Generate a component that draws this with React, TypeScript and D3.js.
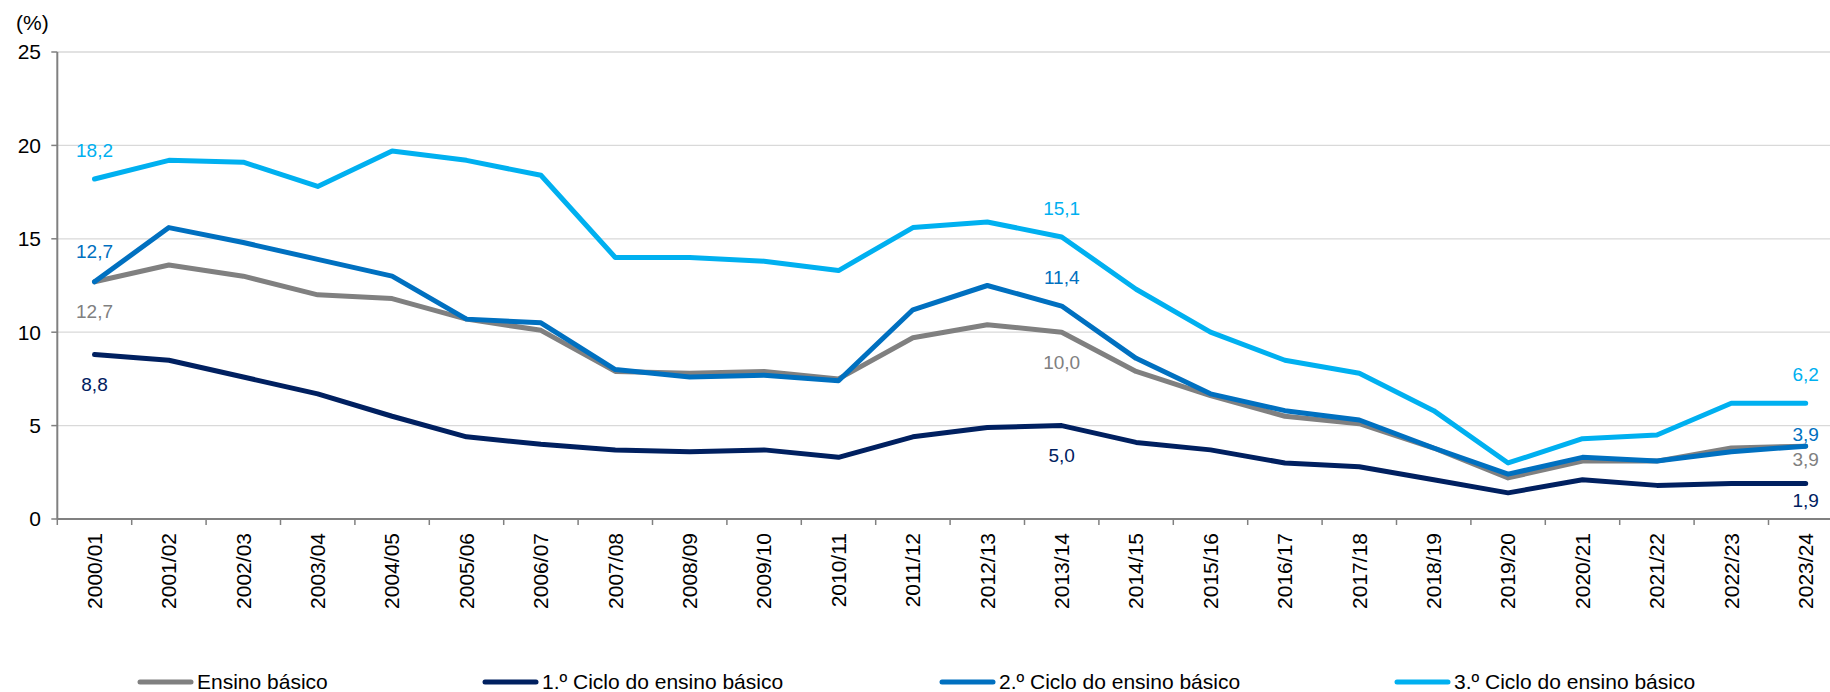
import React from "react";
import * as d3 from "d3";

const categories = [
  "2000/01", "2001/02", "2002/03", "2003/04", "2004/05", "2005/06", "2006/07", "2007/08",
  "2008/09", "2009/10", "2010/11", "2011/12", "2012/13", "2013/14", "2014/15", "2015/16",
  "2016/17", "2017/18", "2018/19", "2019/20", "2020/21", "2021/22", "2022/23", "2023/24",
];

const ensinoBasico = [12.7, 13.6, 13.0, 12.0, 11.8, 10.7, 10.1, 7.9, 7.8, 7.9, 7.5, 9.7, 10.4, 10.0, 7.9, 6.6, 5.5, 5.1, 3.8, 2.2, 3.1, 3.1, 3.8, 3.9];
const ciclo1 = [8.8, 8.5, 7.6, 6.7, 5.5, 4.4, 4.0, 3.7, 3.6, 3.7, 3.3, 4.4, 4.9, 5.0, 4.1, 3.7, 3.0, 2.8, 2.1, 1.4, 2.1, 1.8, 1.9, 1.9];
const ciclo2 = [12.7, 15.6, 14.8, 13.9, 13.0, 10.7, 10.5, 8.0, 7.6, 7.7, 7.4, 11.2, 12.5, 11.4, 8.6, 6.7, 5.8, 5.3, 3.8, 2.4, 3.3, 3.1, 3.6, 3.9];
const ciclo3 = [18.2, 19.2, 19.1, 17.8, 19.7, 19.2, 18.4, 14.0, 14.0, 13.8, 13.3, 15.6, 15.9, 15.1, 12.3, 10.0, 8.5, 7.8, 5.8, 3.0, 4.3, 4.5, 6.2, 6.2];

const seriesNames = [
  "Ensino básico",
  "1.º Ciclo do ensino básico",
  "2.º Ciclo do ensino básico",
  "3.º Ciclo do ensino básico",
];
const yTicks = [0, 5, 10, 15, 20, 25];
const labelIndexes = [0, 13, 23];

const COLORS = ["#808080", "#002060", "#0070C0", "#00B0F0"];
// vertical offset (px) of each series' value labels, per labelled index
const LABEL_OFFSETS = [
  [30, 30, 13],
  [30, 30, 17],
  [-30, -29, -12],
  [-29, -29, -29],
];
const LEGEND_X = [138, 483, 940, 1395];

const W = 1830;
const H = 692;
const X0 = 57.3;
const BAND = 74.4;
const Y_TOP = 52;
const Y_BOT = 519;
const FONT = "'Liberation Sans', Arial, Helvetica, sans-serif";

export default function App() {
  const series = [ensinoBasico, ciclo1, ciclo2, ciclo3];
  const x = d3.scaleBand<string>().domain(categories).range([X0, X0 + BAND * categories.length]).padding(0);
  const y = d3.scaleLinear().domain([0, 25]).range([Y_BOT, Y_TOP]);
  const cx = (c: string) => (x(c) as number) + x.bandwidth() / 2;
  const line = d3
    .line<number>()
    .x((_, i) => cx(categories[i]))
    .y((d) => y(d));

  const fmt = (v: number) => v.toFixed(1).replace(".", ",");

  return (
    <svg
      width={W}
      height={H}
      style={{ position: "absolute", left: 0, top: 0, background: "#fff" }}
      fontFamily={FONT}
    >
      {/* gridlines */}
      {yTicks.slice(1).map((t) => (
        <line key={t} x1={X0} x2={W} y1={y(t)} y2={y(t)} stroke="#D9D9D9" strokeWidth={1.3} />
      ))}
      {/* y axis */}
      <line x1={X0} x2={X0} y1={Y_TOP} y2={Y_BOT} stroke="#808080" strokeWidth={2} />
      {yTicks.map((t) => (
        <g key={t}>
          <line x1={X0 - 6} x2={X0} y1={y(t)} y2={y(t)} stroke="#808080" strokeWidth={1.5} />
          <text x={41} y={y(t)} dy="0.35em" textAnchor="end" fontSize={21} fill="#000">
            {t}
          </text>
        </g>
      ))}
      <text x={16} y={30} fontSize={21} fill="#000">(%)</text>
      {/* x axis */}
      <line x1={X0} x2={W} y1={Y_BOT} y2={Y_BOT} stroke="#808080" strokeWidth={2} />
      {categories.map((c) => (
        <line key={"t" + c} x1={x(c)} x2={x(c)} y1={Y_BOT} y2={Y_BOT + 6} stroke="#808080" strokeWidth={1.5} />
      ))}
      {categories.map((c) => (
        <text
          key={"l" + c}
          transform={`translate(${cx(c)},${Y_BOT + 14}) rotate(-90)`}
          textAnchor="end"
          dy="0.35em"
          fontSize={21}
          fill="#000"
        >
          {c}
        </text>
      ))}
      {/* lines */}
      {series.map((s, si) => (
        <path
          key={"s" + si}
          d={line(s) || ""}
          fill="none"
          stroke={COLORS[si]}
          strokeWidth={5}
          strokeLinejoin="round"
          strokeLinecap="round"
        />
      ))}
      {/* data labels */}
      {series.map((s, si) =>
        labelIndexes.map((idx, k) => (
          <text
            key={`dl${si}-${idx}`}
            x={cx(categories[idx])}
            y={y(s[idx]) + LABEL_OFFSETS[si][k]}
            dy="0.35em"
            textAnchor="middle"
            fontSize={19}
            fill={COLORS[si]}
          >
            {fmt(s[idx])}
          </text>
        ))
      )}
      {/* legend */}
      {seriesNames.map((n, i) => (
        <g key={"lg" + i}>
          <line
            x1={LEGEND_X[i] + 2}
            x2={LEGEND_X[i] + 53}
            y1={682}
            y2={682}
            stroke={COLORS[i]}
            strokeWidth={5}
            strokeLinecap="round"
          />
          <text x={LEGEND_X[i] + 59} y={682} dy="0.35em" fontSize={21} fill="#000">
            {n}
          </text>
        </g>
      ))}
    </svg>
  );
}
